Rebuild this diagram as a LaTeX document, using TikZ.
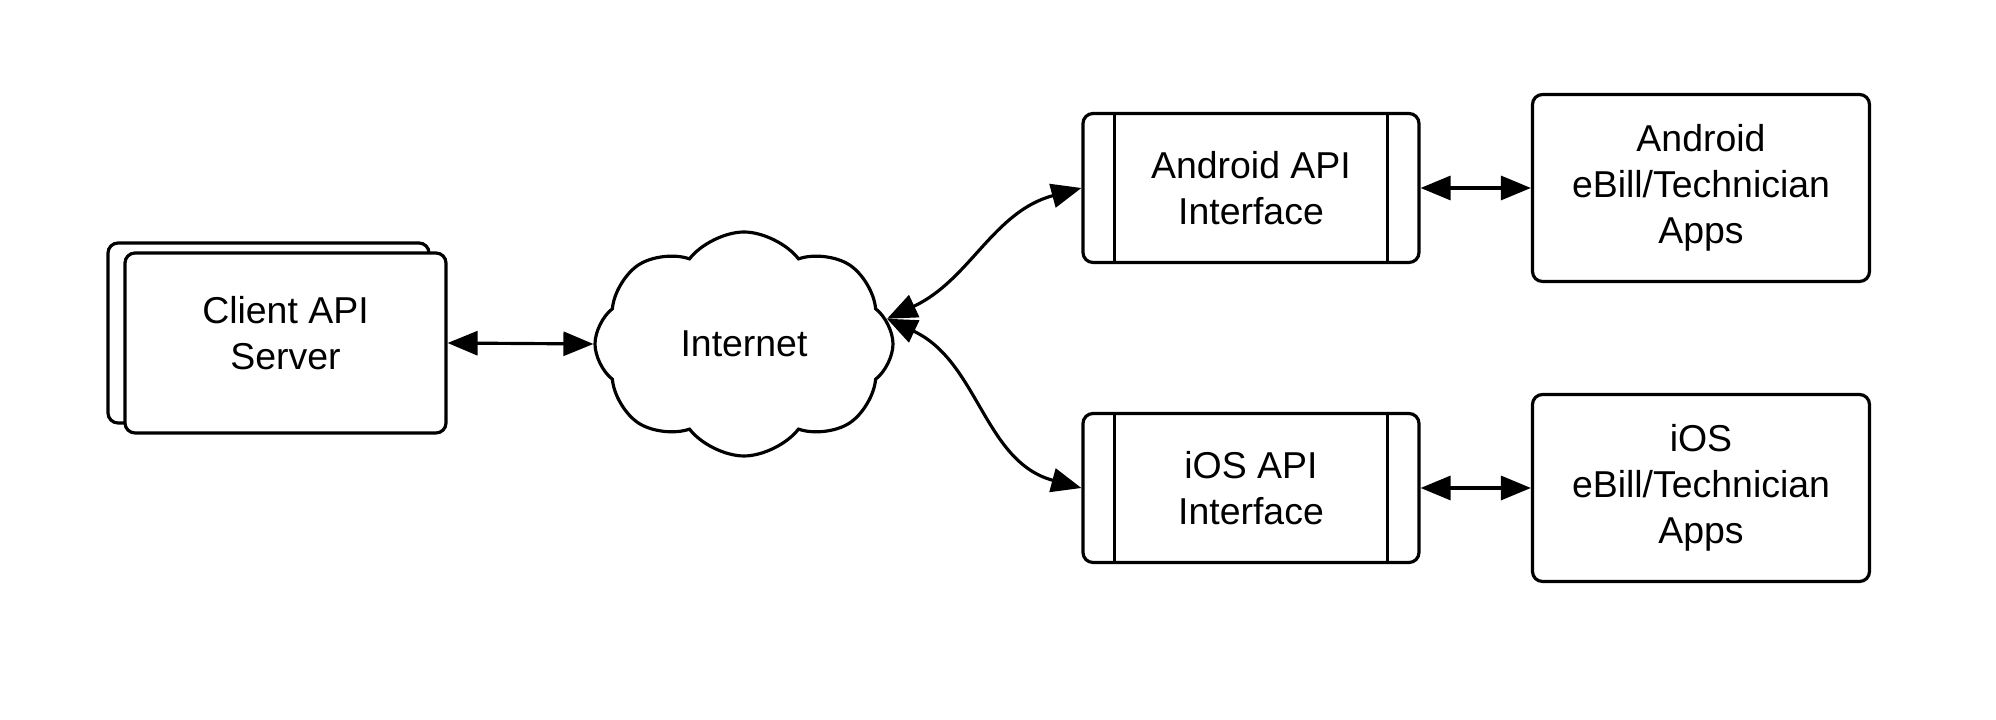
\documentclass[tikz,border=0pt]{standalone}
\usepackage{fontspec}
\setmainfont{Liberation Sans}
\usetikzlibrary{shapes.symbols,arrows.meta}

\begin{document}
\begin{tikzpicture}[
    node distance=3cm,
    box/.style={rectangle, draw, fill=white, line width=0.9pt, rounded corners=1mm, align=center, font=\fontsize{10.65}{13}\selectfont},
    server/.style={box, minimum width=3.21cm, minimum height=1.8cm},
    iface/.style={box, minimum width=3.36cm, minimum height=1.49cm},
    apps/.style={box, minimum width=3.37cm, minimum height=1.87cm},
    net/.style={cloud, cloud puffs=8, cloud puff arc=105, draw, fill=white, line width=0.9pt, minimum width=2.98cm, minimum height=2.24cm, inner sep=0pt, align=center, font=\fontsize{10.65}{13}\selectfont},
    link/.style={arrows={Triangle[length=3mm,width=2.4mm]-Triangle[length=3mm,width=2.4mm]}, line width=0.9pt}
]
\useasboundingbox (0,0) rectangle (19.96,-7.2);

% Left: server and cloud
\node[server] (clientback) at (2.685,-3.33) {};
\node[server] (client) at (2.855,-3.43) {};
\node[box, draw=none, fill=none] (clienttext) at ([yshift=1mm]client.center) {Client API\\Server};
\node[net] (internet) at (7.44,-3.44) {Internet};

% Interfaces
\node[iface] (android) at (12.51,-1.88) {Android API\\Interface};
\node[iface, below of=android] (ios) {iOS API\\Interface};

% Apps
\node[apps, right of=android, node distance=4.5cm] (androidapps) {Android\\eBill/Technician\\Apps};
\node[apps, right of=ios, node distance=4.5cm] (iosapps) {iOS\\eBill/Technician\\Apps};

% side bars of the interface boxes
\foreach \n in {android, ios} {
  \draw[line width=0.9pt] ([xshift=3.3mm]\n.north west) -- ([xshift=3.3mm]\n.south west);
  \draw[line width=0.9pt] ([xshift=-3.3mm]\n.north east) -- ([xshift=-3.3mm]\n.south east);
}

% Connections
\draw[link] (client.east) -- (internet.west);
\draw[link] (internet.10) to[out=25, in=195] (android.west);
\draw[link] (internet.10) to[out=-25, in=165] (ios.west);
\draw[link] (android) -- (androidapps);
\draw[link] (ios) -- (iosapps);

\end{tikzpicture}
\end{document}
